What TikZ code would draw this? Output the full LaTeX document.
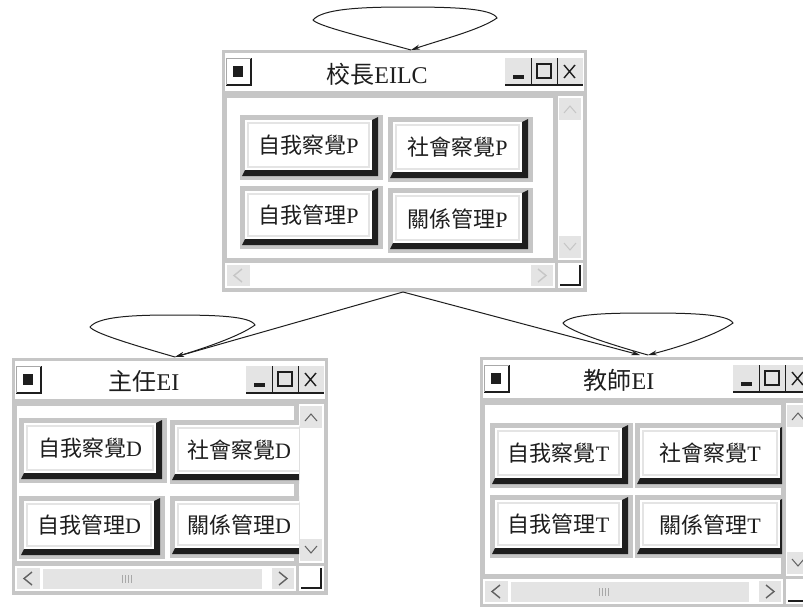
\documentclass[tikz,border=0pt]{standalone}
\usepackage{fontspec}
\setmainfont{Liberation Serif}
\newfontfamily\cjk{Noto Sans CJK TC}
\usetikzlibrary{arrows.meta}
\definecolor{fr}{HTML}{C6C6C6}
\definecolor{lt}{HTML}{E4E4E4}
\definecolor{md}{HTML}{A8A8A8}
\definecolor{dk}{HTML}{1E1E1E}
\tikzset{
  arr/.style={draw=dk, line width=1pt, -{Stealth[length=9pt,width=5pt]}},
  wtitle/.style={font=\fontsize{24}{24}\selectfont, inner sep=0pt, text=dk},
  btext/.style={font=\fontsize{22}{22}\selectfont, inner sep=0pt, text=dk},
}
% window: x1 y1 x2 y2 arrowcolor thumb(1/0)
\newcommand\mywin[6]{%
  \fill[fr] (#1,#2) rectangle (#3,#4);
  \fill[white] ({#1+3},{#2+3}) rectangle ({#3-3},{#2+41});
  % system icon
  \fill[white] ({#1+4},{#2+8}) rectangle ({#1+29},{#2+35});
  \draw[dk, line width=1.2pt] ({#1+29},{#2+8}) -- ({#1+29},{#2+35}) -- ({#1+4},{#2+35});
  \draw[md, line width=0.8pt] ({#1+4},{#2+35}) -- ({#1+4},{#2+8}) -- ({#1+29},{#2+8});
  \fill[dk] ({#1+11},{#2+16}) rectangle ({#1+21},{#2+27});
  % min / max / close
  \fill[lt] ({#3-82},{#2+8}) rectangle ({#3-4},{#2+35});
  \draw[dk, line width=1.2pt] ({#3-82},{#2+35}) -- ({#3-4},{#2+35});
  \draw[dk, line width=1pt] ({#3-56},{#2+8}) -- ({#3-56},{#2+35}) ({#3-30},{#2+8}) -- ({#3-30},{#2+35});
  \fill[dk] ({#3-74},{#2+25}) rectangle ({#3-63},{#2+29});
  \draw[dk, line width=1.2pt] ({#3-50},{#2+14}) rectangle ({#3-36},{#2+28});
  \draw[dk, line width=1.4pt] ({#3-23},{#2+15}) -- ({#3-12},{#2+28}) ({#3-23},{#2+28}) -- ({#3-12},{#2+15});
  % panel
  \fill[white] ({#1+3},{#2+46}) rectangle ({#3-32},{#4-32});
  \draw[fr, line width=2pt] ({#1+4},{#2+47}) rectangle ({#3-33},{#4-33});
  % vertical scrollbar
  \fill[white] ({#3-29},{#2+46}) rectangle ({#3-4},{#4-32});
  \fill[lt] ({#3-28},{#2+48}) rectangle ({#3-6},{#2+70});
  \draw[#5, line width=1pt] ({#3-23},{#2+63}) -- ({#3-17},{#2+56}) -- ({#3-11},{#2+63});
  \fill[lt] ({#3-28},{#4-56}) rectangle ({#3-6},{#4-34});
  \draw[#5, line width=1pt] ({#3-23},{#4-49}) -- ({#3-17},{#4-42}) -- ({#3-11},{#4-49});
  % horizontal scrollbar
  \fill[white] ({#1+3},{#4-29}) rectangle ({#3-32},{#4-4});
  \fill[lt] ({#1+5},{#4-27}) rectangle ({#1+28},{#4-6});
  \draw[#5, line width=1.4pt] ({#1+20},{#4-23}) -- ({#1+12},{#4-16.5}) -- ({#1+20},{#4-10});
  \fill[lt] ({#3-56},{#4-27}) rectangle ({#3-34},{#4-6});
  \draw[#5, line width=1.4pt] ({#3-49},{#4-23}) -- ({#3-41},{#4-16.5}) -- ({#3-49},{#4-10});
  \ifnum#6=1
    \fill[lt] ({#1+30},{#4-27}) rectangle ({#3-66},{#4-6});
    \draw[white, line width=1pt] ({#1+30},{#4-6}) -- ({#1+30},{#4-27}) -- ({#3-66},{#4-27});
    \draw[md, line width=0.6pt]
      ({(#1+#3)/2-48},{#4-20}) -- ({(#1+#3)/2-48},{#4-12})
      ({(#1+#3)/2-45},{#4-20}) -- ({(#1+#3)/2-45},{#4-12})
      ({(#1+#3)/2-42},{#4-20}) -- ({(#1+#3)/2-42},{#4-12})
      ({(#1+#3)/2-39},{#4-20}) -- ({(#1+#3)/2-39},{#4-12});
  \fi
  % corner box
  \fill[white] ({#3-29},{#4-29}) rectangle ({#3-4},{#4-4});
  \draw[dk, line width=1.3pt] ({#3-7},{#4-27}) -- ({#3-7},{#4-7}) -- ({#3-27},{#4-7});
}
% button: name x1 y1 x2 y2 text
\newcommand\mybtn[6]{%
  \fill[fr] (#2,#3) rectangle (#4,#5);
  \fill[dk] ({#4-11},{#3+5}) -- ({#4-5},{#3+2}) -- ({#4-5},{#5-4}) -- ({#2+2},{#5-4}) -- ({#2+5},{#5-10}) -- cycle;
  \fill[white] ({#2+5},{#3+5}) rectangle ({#4-11},{#5-10});
  \draw[lt, line width=1.2pt] ({#2+8},{#3+8}) rectangle ({#4-14},{#5-13});
  \node[btext] (#1) at ({(#2+#4-6)/2},{(#3+#5-4)/2}) {#6};
}
\begin{document}
\begin{tikzpicture}[x=1pt,y=-1pt]
\useasboundingbox (0,0) rectangle (803,606);
\fill[white] (0,0) rectangle (803,606);

% ---------- top window ----------
\mywin{222}{50}{587}{292}{fr}{0}
\node[wtitle] (ttop) at (377,74) {{\cjk 校長}EILC};
\mybtn{pa}{240}{115}{383}{180}{{\cjk 自我察覺}P}
\mybtn{pb}{388}{117}{533}{182}{{\cjk 社會察覺}P}
\mybtn{pc}{240}{186}{383}{249}{{\cjk 自我管理}P}
\mybtn{pd}{388}{188}{533}{253}{{\cjk 關係管理}P}

% ---------- left window ----------
\mywin{12}{358}{328}{595}{dk!70}{1}
\node[wtitle] (tleft) at (144,381) {{\cjk 主任}EI};
\begin{scope}
\clip (15,405) rectangle (299,561);
\mybtn{da}{19}{418}{167}{483}{{\cjk 自我察覺}D}
\mybtn{db}{170}{420}{314}{484}{{\cjk 社會察覺}D}
\mybtn{dc}{19}{496}{165}{559}{{\cjk 自我管理}D}
\mybtn{dd}{170}{496}{314}{558}{{\cjk 關係管理}D}
\end{scope}

% ---------- right window ----------
\mywin{480}{357}{815}{608}{dk!70}{1}
\node[wtitle] (tright) at (619,380) {{\cjk 教師}EI};
\begin{scope}
\clip (483,405) rectangle (782,575);
\mybtn{ta}{490}{423}{633}{488}{{\cjk 自我察覺}T}
\mybtn{tb}{635}{423}{791}{488}{{\cjk 社會察覺}T}
\mybtn{tc}{490}{495}{633}{558}{{\cjk 自我管理}T}
\mybtn{td}{635}{495}{791}{558}{{\cjk 關係管理}T}
\end{scope}

% ---------- connectors ----------
\coordinate (topS) at (403,292);
\coordinate (topN) at (411,50);
\coordinate (leftN) at (175,357);
\coordinate (rightN) at (640,355);
\coordinate (rightN2) at (648,355);

\draw[arr] (topS) -- (leftN);
\draw[arr] (topS) -- (rightN);

\draw[arr] (topN) .. controls (360,36) and (318,26) .. (313,20) .. controls (322,9) and (360,7) .. (405,7)
  .. controls (450,7) and (492,8) .. (497,18) .. controls (480,30) and (440,40) .. (topN);
\draw[arr] (leftN) .. controls (130,344) and (94,333) .. (90,327) .. controls (98,317) and (130,315) .. (172,315)
  .. controls (215,315) and (250,316) .. (255,325) .. controls (240,336) and (205,348) .. (leftN);
\draw[arr] (rightN2) .. controls (605,343) and (567,330) .. (563,323) .. controls (571,314) and (605,313) .. (648,313)
  .. controls (690,313) and (728,314) .. (733,323) .. controls (718,334) and (680,347) .. (rightN2);
\end{tikzpicture}
\end{document}
